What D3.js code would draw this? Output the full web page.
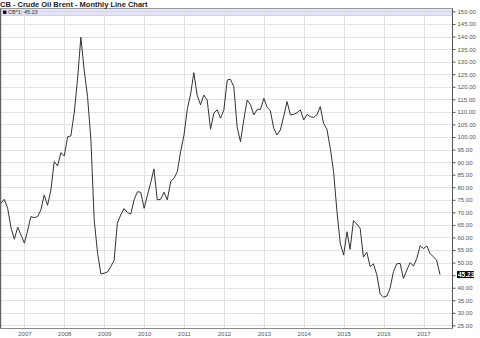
<!DOCTYPE html>
<html>
<head>
<meta charset="utf-8">
<script src="https://cdn.jsdelivr.net/npm/d3@7"></script>
<style>
  body { margin: 0; background: #fff; }
  #chart { width: 480px; height: 338px; }
  text { font-family: "Liberation Sans", Arial, sans-serif; }
</style>
</head>
<body>
<div id="chart"></div>
<script>
// monthly closes, Brent (CB*1), starting June 2006
var startMonth = "2006-06";
var closes = [
  73.6, 75.2, 71.6, 63.8, 59.3, 64.1, 61.0,
  57.7, 63.0, 68.3, 67.9, 68.3, 71.0, 76.9, 72.8, 78.9, 90.2, 88.5, 93.8,
  92.5, 100.1, 100.4, 109.5, 122.7, 139.7, 126.7, 116.1, 98.8, 67.0, 53.7, 45.5,
  45.8, 46.3, 48.4, 50.8, 65.7, 69.0, 71.5, 69.9, 69.3, 75.0, 78.2, 78.0,
  71.6, 76.9, 81.6, 87.3, 75.0, 75.2, 78.0, 75.0, 82.2, 83.6, 86.2, 94.2,
  100.8, 111.4, 116.7, 125.6, 116.7, 112.8, 116.7, 114.7, 103.1, 109.5, 110.8, 107.5,
  110.8, 122.7, 123.0, 120.0, 104.1, 98.1, 106.8, 114.7, 112.8, 108.8, 111.0, 111.0,
  115.4, 111.8, 110.5, 103.5, 100.8, 102.8, 108.1, 114.1, 108.8, 109.0, 109.7, 110.8,
  106.8, 109.0, 108.1, 107.8, 108.8, 112.1, 105.5, 103.1, 95.5, 86.2, 70.3, 57.7,
  53.0, 62.3, 55.3, 66.7, 65.4, 63.7, 52.2, 54.1, 48.4, 49.5, 45.1, 37.5,
  36.2, 36.7, 39.8, 46.4, 49.5, 49.7, 43.7, 47.0, 50.0, 48.6, 51.7, 56.7,
  55.6, 56.6, 53.7, 52.3, 51.0, 45.23
];
var lastLabel = "45.23";
var priceTicks = [25, 30, 35, 40, 45, 50, 55, 60, 65, 70, 75, 80, 85, 90, 95,
                  100, 105, 110, 115, 120, 125, 130, 135, 140, 145, 150];
var yearTicks = [2007, 2008, 2009, 2010, 2011, 2012, 2013, 2014, 2015, 2016, 2017];

var parseMonth = d3.timeParse("%Y-%m");
var start = parseMonth(startMonth);
var data = closes.map((v, i) => ({ date: d3.timeMonth.offset(start, i), close: v }));

var width = 480, height = 338;
var plot = { left: 0.5, right: 452.5, top: 8.5, bottom: 328.5 };

var svg = d3.select("#chart")
  .append("svg")
  .attr("width", width)
  .attr("height", height);

var x = d3.scaleTime()
  .domain([start, data[data.length - 1].date])
  .range([1, 440]);

var y = d3.scaleLinear()
  .domain([25, 150])
  .range([325.4, 11.4]);

var lastClose = closes[closes.length - 1];

// lavender header band
svg.append("rect")
  .attr("x", plot.left).attr("y", plot.top)
  .attr("width", plot.right - plot.left).attr("height", 7)
  .attr("fill", "#e4e4f8");
svg.append("line")
  .attr("x1", plot.left).attr("x2", plot.right)
  .attr("y1", 15.5).attr("y2", 15.5)
  .attr("stroke", "#cfcfee");

// grid
svg.append("g")
  .selectAll("line")
  .data(priceTicks)
  .enter().append("line")
    .attr("x1", plot.left).attr("x2", plot.right)
    .attr("y1", d => Math.round(y(d)) + 0.5)
    .attr("y2", d => Math.round(y(d)) + 0.5)
    .attr("stroke", d => d == 150 ? "#d4d4f0" : "#e2e2e2");

svg.append("g")
  .selectAll("line")
  .data(yearTicks)
  .enter().append("line")
    .attr("x1", d => Math.round(x(new Date(d, 0, 1))) + 0.5)
    .attr("x2", d => Math.round(x(new Date(d, 0, 1))) + 0.5)
    .attr("y1", plot.top).attr("y2", plot.bottom)
    .attr("stroke", "#e2e2e2");

// frame
svg.append("line")
  .attr("x1", plot.left).attr("x2", plot.right)
  .attr("y1", plot.top).attr("y2", plot.top)
  .attr("stroke", "#999");
svg.append("line")
  .attr("x1", plot.left).attr("x2", plot.left)
  .attr("y1", plot.top).attr("y2", plot.bottom)
  .attr("stroke", "#666").attr("stroke-width", 1.5);

// right price axis (the label under the last-value box is hidden by it)
var yAxis = d3.axisRight(y)
  .tickValues(priceTicks)
  .tickSize(3)
  .tickPadding(2)
  .tickFormat(d => Math.abs(d - lastClose) < 2.5 ? "" : d3.format(".2f")(d));

svg.append("g")
  .attr("transform", `translate(${plot.right},0)`)
  .call(yAxis)
  .call(g => g.select(".domain").attr("d", `M0,${plot.top}V${plot.bottom}`).attr("stroke", "#555"))
  .call(g => g.selectAll(".tick line").attr("stroke", "#555"))
  .call(g => g.selectAll("text")
    .attr("fill", "#555")
    .style("font-size", "6px"));

// bottom time axis
var xAxis = d3.axisBottom(x)
  .tickValues(yearTicks.map(d => new Date(d, 0, 1)))
  .tickSize(0)
  .tickPadding(3)
  .tickFormat(d3.timeFormat("%Y"));

svg.append("g")
  .attr("transform", `translate(0,${plot.bottom})`)
  .call(xAxis)
  .call(g => g.select(".domain").attr("d", `M${plot.left},0H${plot.right}`).attr("stroke", "#888"))
  .call(g => g.selectAll("text")
    .attr("fill", "#555")
    .style("font-size", "6px"));

// price line
var line = d3.line()
  .x(d => x(d.date))
  .y(d => y(d.close));

svg.append("path")
  .datum(data)
  .attr("d", line)
  .attr("fill", "none")
  .attr("stroke", "#333")
  .attr("stroke-width", 1);

// last value marker
var lastY = y(lastClose);
svg.append("rect")
  .attr("x", 457).attr("y", lastY - 3.5)
  .attr("width", 17).attr("height", 7)
  .attr("fill", "#000");
svg.append("text")
  .attr("x", 458).attr("y", lastY + 2.3)
  .attr("fill", "#fff")
  .style("font-size", "6.5px")
  .style("font-weight", "bold")
  .text(lastLabel);

// title and legend
svg.append("text")
  .attr("x", 0).attr("y", 7)
  .style("font-size", "7.5px")
  .style("font-weight", "bold")
  .attr("fill", "#222")
  .text("CB - Crude Oil Brent - Monthly Line Chart");

svg.append("rect")
  .attr("x", 3).attr("y", 10.5)
  .attr("width", 3.5).attr("height", 3.5)
  .attr("fill", "#111");
svg.append("text")
  .attr("x", 8).attr("y", 14.2)
  .style("font-size", "5.5px")
  .attr("fill", "#333")
  .text("CB*1: " + lastLabel);
</script>
</body>
</html>
